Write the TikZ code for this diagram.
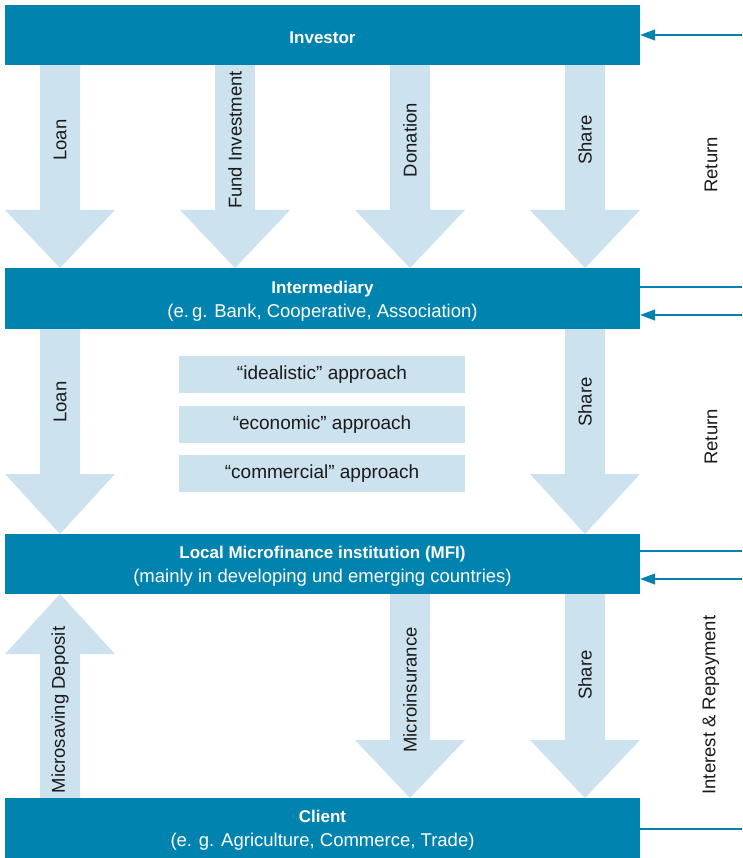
\documentclass[tikz,border=0pt]{standalone}
\usepackage{fontspec}
\setmainfont{Liberation Sans}
\usetikzlibrary{arrows.meta}
\definecolor{mfblue}{HTML}{0083AF}
\definecolor{mflight}{HTML}{CCE2EF}
\definecolor{mftext}{HTML}{1A1A1A}
\newcommand\mfdown[4]{% x, ytop, yhead, ytip
  \fill[mflight] (#1-20,-#2) -- (#1+20,-#2) -- (#1+20,-#3) -- (#1+55,-#3) -- (#1,-#4) -- (#1-55,-#3) -- (#1-20,-#3) -- cycle;}
\newcommand\mfup[4]{% x, ybottom, yhead, ytip
  \fill[mflight] (#1-20,-#2) -- (#1+20,-#2) -- (#1+20,-#3) -- (#1+55,-#3) -- (#1,-#4) -- (#1-55,-#3) -- (#1-20,-#3) -- cycle;}
\newcommand\mfhead[1]{{\fontsize{17}{24}\selectfont\bfseries\rule{0pt}{17pt}#1}}
\begin{document}
\begin{tikzpicture}[x=1pt,y=1pt,
  bar/.style={fill=mfblue, draw=none, minimum width=635pt, inner sep=0pt, text=white, align=center, font=\fontsize{18.5}{24}\selectfont},
  flowlabel/.style={rotate=90, text=mftext, inner sep=0pt, font=\fontsize{18.5}{20}\selectfont},
  approach/.style={fill=mflight, draw=none, minimum width=286pt, minimum height=37pt, inner sep=0pt, text=mftext, font=\fontsize{19}{20}\selectfont},
  ret/.style={draw=mfblue, line width=1.3pt},
  retin/.style={ret, -{Triangle[length=15pt,width=11pt]}},
  sidelabel/.style={rotate=90, text=mftext, inner sep=0pt, font=\fontsize{18.5}{20}\selectfont}
]
\useasboundingbox (0,0) rectangle (742,-858);
% flows
\mfdown{60}{65}{210}{268}
\mfdown{235}{65}{210}{268}
\mfdown{410}{65}{210}{268}
\mfdown{585}{65}{210}{268}
\mfdown{60}{329}{474}{534}
\mfdown{585}{329}{474}{534}
\mfup{60}{798}{654}{594}
\mfdown{410}{594}{740}{798}
\mfdown{585}{594}{740}{798}
% bars
\node[bar, minimum height=60pt] (inv) at (322.5,-35) {\mfhead{Investor}};
\node[bar, minimum height=61pt] (int) at (322.5,-298.5) {\mfhead{Intermediary}\\(e.\,g. Bank, Cooperative, Association)};
\node[bar, minimum height=60pt] (mfi) at (322.5,-564) {\mfhead{Local Microfinance institution (MFI)}\\(mainly in developing und emerging countries)};
\node[bar, minimum height=60pt] (cli) at (322.5,-828) {\mfhead{Client}\\(e. g. Agriculture, Commerce, Trade)};
% flow labels
\node[flowlabel] (l1) at (60,-140) {Loan};
\node[flowlabel] (l2) at (235,-140) {Fund Investment};
\node[flowlabel] (l3) at (410,-140) {Donation};
\node[flowlabel] (l4) at (585,-140) {Share};
\node[flowlabel] (l5) at (60,-402) {Loan};
\node[flowlabel] (l6) at (585,-402) {Share};
\node[flowlabel] (l7) at (60,-710) {Microsaving Deposit};
\node[flowlabel] (l8) at (410,-690) {Microinsurance};
\node[flowlabel] (l9) at (585,-675) {Share};
% approaches
\node[approach] (a1) at (322,-374.5) {“idealistic” approach};
\node[approach] (a2) at (322,-424.5) {“economic” approach};
\node[approach] (a3) at (322,-473.5) {“commercial” approach};
% returns
\coordinate (r1) at (742,-35);
\coordinate (r2) at (742,-287);
\coordinate (r3) at (742,-315);
\coordinate (r4) at (742,-551);
\coordinate (r5) at (742,-579);
\coordinate (r6) at (742,-829);
\draw[retin] (r1) -- (inv.east |- r1);
\draw[ret] (int.east |- r2) -- (r2);
\draw[retin] (r3) -- (int.east |- r3);
\draw[ret] (mfi.east |- r4) -- (r4);
\draw[retin] (r5) -- (mfi.east |- r5);
\draw[ret] (cli.east |- r6) -- (r6);
\node[sidelabel] (s1) at (711,-165) {Return};
\node[sidelabel] (s2) at (711,-437) {Return};
\node[sidelabel] (s3) at (711,-705) {Interest \& Repayment};
\end{tikzpicture}
\end{document}
